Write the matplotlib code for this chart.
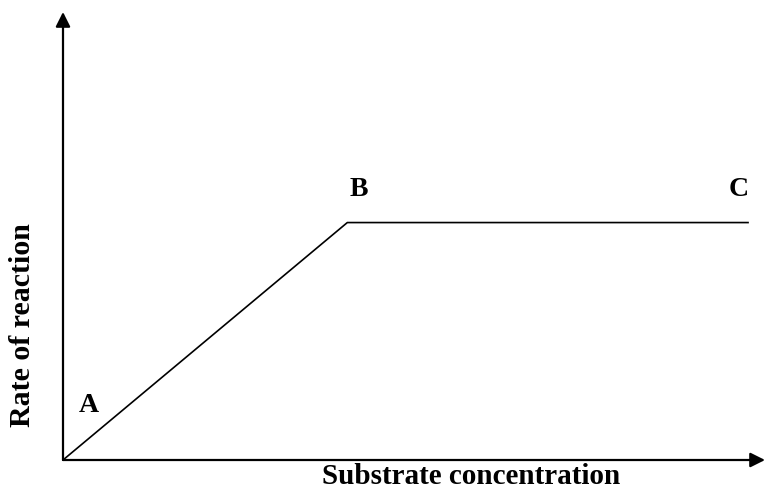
import matplotlib.pyplot as plt

# Data: rate of an enzyme reaction vs substrate concentration
substrate = [0, 4.05, 9.77]
rate = [0, 5.3, 5.3]
point_labels = ['A', 'B', 'C']
label_offsets = [(26, 55), (12, 33), (-10, 33)]  # pixels from each point

plt.rcParams['font.family'] = ['Liberation Serif', 'DejaVu Serif']

fig = plt.figure(figsize=(7.65, 4.91), dpi=100)
W, H = 765, 491
ax = fig.add_axes([63 / W, 31 / H, 702 / W, 448 / H])
ax.set_xlim(0, 10)
ax.set_ylim(0, 10)
ax.axis('off')

# the curve
ax.plot(substrate, rate, color='black', lw=1.2, solid_capstyle='butt')

# axes drawn as arrows
arrow = dict(arrowstyle='-|>', lw=1.6, color='black', mutation_scale=22,
             shrinkA=0, shrinkB=0)
ax.annotate('', xy=(1, 0), xytext=(0, 0), xycoords='axes fraction',
            arrowprops=arrow, annotation_clip=False)
ax.annotate('', xy=(0, 1), xytext=(0, 0), xycoords='axes fraction',
            arrowprops=arrow, annotation_clip=False)

# point labels
for x, y, lab, off in zip(substrate, rate, point_labels, label_offsets):
    ax.annotate(lab, (x, y), xytext=off, textcoords='offset pixels',
                ha='center', va='center', fontsize=20, fontweight='bold')

fig.text(471 / W, 1 - 484 / H, 'Substrate concentration', ha='center',
         va='baseline', fontsize=21, fontweight='bold')
fig.text(23 / W, 1 - 325 / H, 'Rate of reaction', ha='center', va='center',
         rotation=90, fontsize=21.5, fontweight='bold')

fig.savefig('out.png', dpi=100)
